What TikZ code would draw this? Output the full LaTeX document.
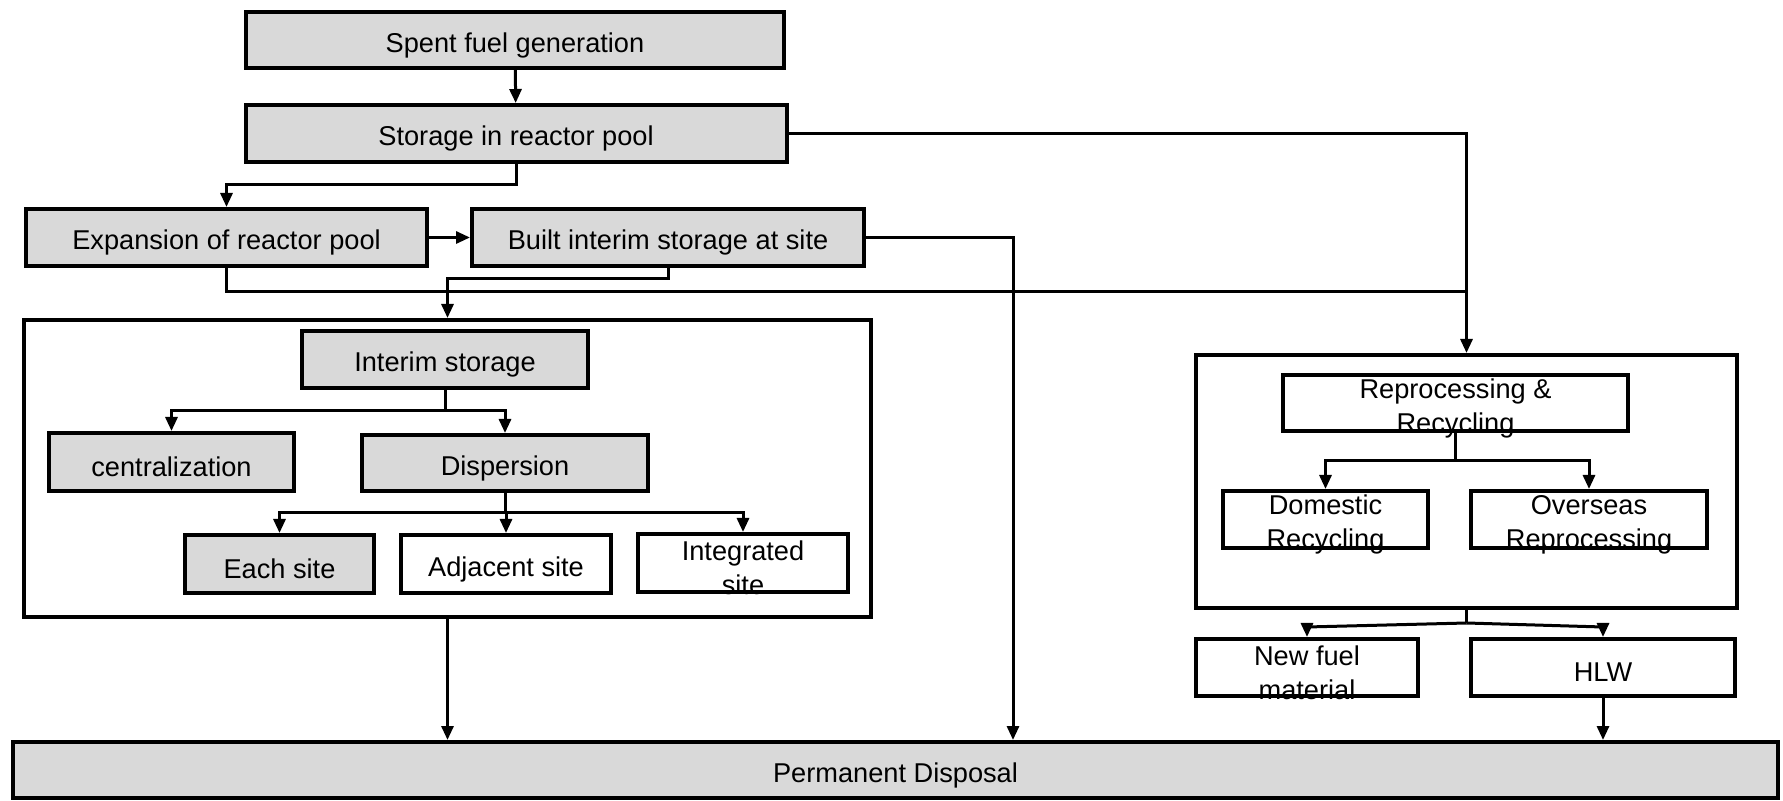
\documentclass[tikz,border=0pt]{standalone}
\usepackage{fontspec}
\setmainfont{Liberation Sans}
\usetikzlibrary{arrows.meta,calc}
\definecolor{boxgray}{HTML}{D9D9D9}
\begin{document}
\begin{tikzpicture}[x=0.5pt,y=-0.5pt,
  box/.style={draw=black, line width=2pt, inner sep=0pt},
  gbox/.style={box, fill=boxgray},
  wbox/.style={box, fill=white},
  txt/.style={inner sep=0pt, align=center, yshift=-2.5pt, font=\fontsize{13.6}{17}\selectfont},
  frame/.style={draw=black, line width=2pt, inner sep=0pt},
  conn/.style={draw=black, line width=1.5pt},
  arr/.style={conn, -{Triangle[length=7pt,width=6pt]}}]
\useasboundingbox (0,0) rectangle (1783,801);
% frames
\node[frame, minimum width=423.5pt, minimum height=148.5pt] (leftbig) at (447.5,468.5) {};
\node[frame, minimum width=270.5pt, minimum height=126.5pt] (rightbig) at (1466.5,481.5) {};
% top
\node[gbox, minimum width=269pt, minimum height=28pt, label={[txt,name=gen-t]center:Spent fuel generation}] (gen) at (515,40) {};
\node[gbox, minimum width=270.5pt, minimum height=28.5pt, label={[txt,name=pool-t]center:Storage in reactor pool}] (pool) at (516,133.5) {};
\node[gbox, minimum width=200.5pt, minimum height=28.5pt, label={[txt,name=exp-t]center:Expansion of reactor pool}] (exp) at (226.5,237.5) {};
\node[gbox, minimum width=196pt, minimum height=28.5pt, label={[txt,name=built-t]center:Built interim storage at site}] (built) at (668,237.5) {};
% left frame contents
\node[gbox, minimum width=143pt, minimum height=28.5pt, label={[txt,name=interim-t]center:Interim storage}] (interim) at (445,359.5) {};
\node[gbox, minimum width=122.5pt, minimum height=29pt, label={[txt,name=central-t]center:centralization}] (central) at (171.5,462) {};
\node[gbox, minimum width=143pt, minimum height=28pt, label={[txt,name=disp-t]center:Dispersion}] (disp) at (505,463) {};
\node[gbox, minimum width=94.5pt, minimum height=29pt, label={[txt,name=each-t]center:Each site}] (each) at (279.5,564) {};
\node[wbox, minimum width=105pt, minimum height=29pt, label={[txt,name=adj-t]center:Adjacent site}] (adj) at (506,564) {};
\node[wbox, minimum width=105pt, minimum height=29pt, label={[txt,name=integ-t]center:{Integrated\\site}}] (integ) at (743,563) {};
% right frame contents
\node[wbox, minimum width=172.5pt, minimum height=28pt, label={[txt,name=repro-t]center:{Reprocessing \&\\Recycling}}] (repro) at (1455.5,403) {};
\node[wbox, minimum width=102.5pt, minimum height=28.5pt, label={[txt,name=dom-t]center:{Domestic\\Recycling}}] (dom) at (1325.5,519.5) {};
\node[wbox, minimum width=118pt, minimum height=28.5pt, label={[txt,name=over-t]center:{Overseas\\Reprocessing}}] (over) at (1589,519.5) {};
\node[wbox, minimum width=111pt, minimum height=28.5pt, label={[txt,name=newfuel-t]center:{New fuel\\material}}] (newfuel) at (1307,667.5) {};
\node[wbox, minimum width=132pt, minimum height=28.5pt, label={[txt,name=hlw-t]center:HLW}] (hlw) at (1603,667.5) {};
% bottom
\node[gbox, minimum width=882.5pt, minimum height=28pt, label={[txt,name=perm-t]center:Permanent Disposal}] (perm) at (895.5,770) {};
% helper coordinates
\coordinate (y185) at (0,185);
\coordinate (y279) at (0,279);
\coordinate (y292) at (0,292);
\coordinate (x1013) at (1013,0);
\coordinate (s1) at (445,411);
\coordinate (s2) at (505,513);
\coordinate (s3) at (1455.5,461);
\coordinate (s4) at (1466.5,623);
\coordinate (y627) at (0,627);
% connectors
\draw[arr] (gen) -- (pool);
\draw[arr] (pool.south) -- (pool.south |- y185) -| (exp.north);
\draw[arr] (exp) -- (built);
\draw[arr] (pool.east) -| (rightbig.north);
\draw[conn] (exp.south) |- (rightbig.north |- y292);
\draw[arr] (built.south) -- (built.south |- y279) -| (leftbig.north);
\draw[arr] (built.east) -| (perm.north -| x1013);
\draw[conn] (interim.south) -- (s1);
\draw[arr] (s1) -| (central.north);
\draw[arr] (s1) -| (disp.north);
\draw[conn] (disp.south) -- (s2);
\draw[arr] (s2) -| (each.north);
\draw[arr] (s2) -| (adj.north);
\draw[arr] (s2) -| (integ.north);
\draw[arr] (leftbig.south) -- (perm.north -| leftbig.south);
\draw[conn] (repro.south) -- (s3);
\draw[arr] (s3) -| (dom.north);
\draw[arr] (s3) -| (over.north);
\draw[conn] (rightbig.south) -- (s4);
\draw[arr] (s4) -- (newfuel.north |- y627) -- (newfuel.north);
\draw[arr] (s4) -- (hlw.north |- y627) -- (hlw.north);
\draw[arr] (hlw.south) -- (perm.north -| hlw.south);
\end{tikzpicture}
\end{document}
